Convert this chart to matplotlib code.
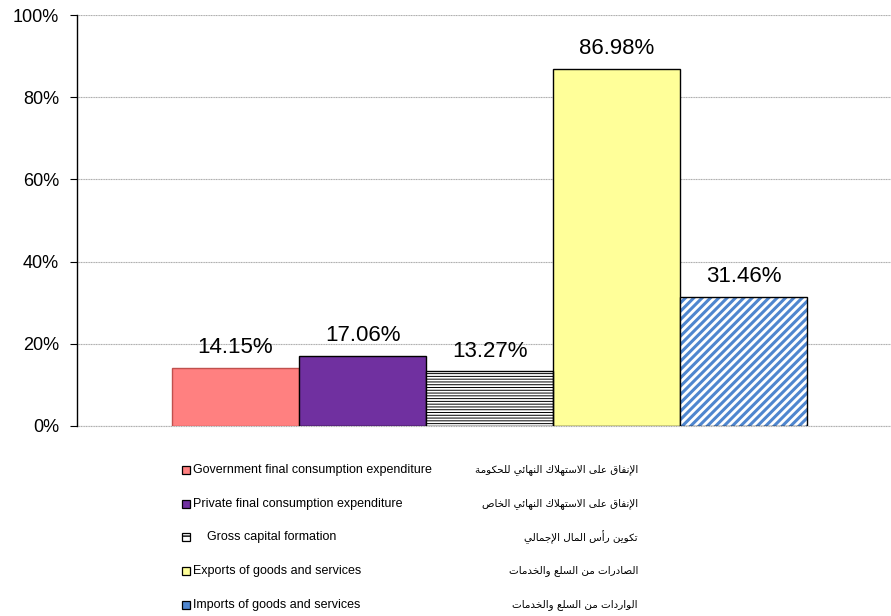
import matplotlib
matplotlib.use("Agg")
import matplotlib.pyplot as plt
from matplotlib.patches import Rectangle
from matplotlib.ticker import FuncFormatter

plt.rcParams['font.family'] = ['Liberation Sans', 'DejaVu Sans']

# данные
values = [14.15, 17.06, 13.27, 86.98, 31.46]
labels_en = ['Government final consumption expenditure',
             'Private final consumption expenditure',
             'Gross capital formation',
             'Exports of goods and services',
             'Imports of goods and services']
labels_ar = ['الإنفاق على الاستهلاك النهائي للحكومة',
             'الإنفاق على الاستهلاك النهائي الخاص',
             'تكوين رأس المال الإجمالي',
             'الصادرات من السلع والخدمات',
             'الواردات من السلع والخدمات']
y_ticks = [0, 20, 40, 60, 80, 100]

# стили столбцов: заливка, кромка, штриховка, цвет и толщина штриховки
fills = ['#FF8080', '#7030A0', 'white', '#FFFF99', 'white']
edges = ['#C0504D', 'black', 'black', 'black', 'black']
hatches = [None, None, '------', None, '////']
hatch_colors = [None, None, 'black', None, '#4F86CF']
hatch_lw = [1.0, 1.0, 0.7, 1.0, 2.2]

# простое арабское формообразование (matplotlib его не делает)
_base = [('آ', 0xFE81, 2), ('أ', 0xFE83, 2), ('ؤ', 0xFE85, 2), ('إ', 0xFE87, 2),
         ('ئ', 0xFE89, 4), ('ا', 0xFE8D, 2), ('ب', 0xFE8F, 4), ('ة', 0xFE93, 2),
         ('ت', 0xFE95, 4), ('ث', 0xFE99, 4), ('ج', 0xFE9D, 4), ('ح', 0xFEA1, 4),
         ('خ', 0xFEA5, 4), ('د', 0xFEA9, 2), ('ذ', 0xFEAB, 2), ('ر', 0xFEAD, 2),
         ('ز', 0xFEAF, 2), ('س', 0xFEB1, 4), ('ش', 0xFEB5, 4), ('ص', 0xFEB9, 4),
         ('ض', 0xFEBD, 4), ('ط', 0xFEC1, 4), ('ظ', 0xFEC5, 4), ('ع', 0xFEC9, 4),
         ('غ', 0xFECD, 4), ('ف', 0xFED1, 4), ('ق', 0xFED5, 4), ('ك', 0xFED9, 4),
         ('ل', 0xFEDD, 4), ('م', 0xFEE1, 4), ('ن', 0xFEE5, 4), ('ه', 0xFEE9, 4),
         ('و', 0xFEED, 2), ('ى', 0xFEEF, 2), ('ي', 0xFEF1, 4), ('ء', 0xFE80, 1)]
FORMS = {c: [chr(s + k) for k in range(n)] for c, s, n in _base}
LAM_ALEF = {'آ': 0xFEF5, 'أ': 0xFEF7, 'إ': 0xFEF9, 'ا': 0xFEFB}


def shape_ar(text):
    out = []
    i = 0
    while i < len(text):
        c = text[i]
        if c not in FORMS:
            out.append(c)
            i += 1
            continue
        prev = text[i - 1] if i > 0 else None
        joins_prev = prev in FORMS and len(FORMS[prev]) == 4
        if c == 'ل' and i + 1 < len(text) and text[i + 1] in LAM_ALEF:
            out.append(chr(LAM_ALEF[text[i + 1]] + (1 if joins_prev else 0)))
            i += 2
            continue
        forms = FORMS[c]
        nxt = text[i + 1] if i + 1 < len(text) else None
        joins_next = len(forms) == 4 and nxt in FORMS
        if len(forms) == 1:
            f = forms[0]
        elif joins_prev and joins_next:
            f = forms[3]
        elif joins_prev:
            f = forms[1]
        elif joins_next:
            f = forms[2]
        else:
            f = forms[0]
        out.append(f)
        i += 1
    return ''.join(reversed(out))


def hatched_bar(ax, x, h, fill, edge, hatch, hcolor, hlw, width=1.0):
    if hatch is None:
        ax.bar(x, h, width=width, color=fill, edgecolor=edge, linewidth=1.0, zorder=3)
        return
    with plt.rc_context({'hatch.linewidth': hlw}):
        b = ax.bar(x, h, width=width, color=fill, edgecolor=hcolor, hatch=hatch,
                   linewidth=0, zorder=3)
        for p in b:
            if hasattr(p, 'set_hatch_linewidth'):
                p.set_hatch_linewidth(hlw)
    ax.bar(x, h, width=width, fill=False, edgecolor=edge, linewidth=1.0, zorder=4)


fig = plt.figure(figsize=(8.91, 6.16), dpi=100)
ax = fig.add_axes([77 / 891, 1 - 426 / 616, 1 - 77 / 891, (426 - 15) / 616])

xs = list(range(len(values)))
for i, v in enumerate(values):
    hatched_bar(ax, xs[i], v, fills[i], edges[i], hatches[i], hatch_colors[i], hatch_lw[i])
    ax.annotate(f'{v:.2f}%', (xs[i], v), xytext=(0, 7), textcoords='offset points',
                ha='center', va='bottom', fontsize=16, zorder=5)

ax.set_xlim(-1.248, 5.16)
ax.set_ylim(0, 100)
ax.set_yticks(y_ticks)
ax.yaxis.set_major_formatter(FuncFormatter(lambda v, p: f'{v:.0f}%'))
ax.tick_params(axis='y', labelsize=13, length=5, width=0.8, pad=8)
ax.set_xticks([])
ax.grid(axis='y', color='#ABABAB', linestyle=(0, (1, 0.5)), linewidth=0.8, zorder=0)
ax.axhline(0, color='#ABABAB', linestyle=(0, (1, 0.5)), linewidth=0.8, zorder=2, clip_on=False)
for s in ['top', 'right', 'bottom']:
    ax.spines[s].set_visible(False)
ax.spines['left'].set_linewidth(1.0)
ax.spines['left'].set_zorder(6)

# легенда вручную (пиксельные координаты)
lg = fig.add_axes([0, 0, 1, 1])
lg.set_xlim(0, 891)
lg.set_ylim(616, 0)
lg.axis('off')
row_y = [470, 504, 537, 571, 605]
for i in range(len(labels_en)):
    y = row_y[i]
    if hatches[i] is None:
        lg.add_patch(Rectangle((182, y - 4), 8, 8, facecolor=fills[i], edgecolor='black', lw=0.9))
    else:
        with plt.rc_context({'hatch.linewidth': 1.0}):
            r = Rectangle((182, y - 4), 8, 8, facecolor=fills[i] if i != 4 else '#4F86CF',
                          edgecolor='black' if i != 4 else 'white',
                          hatch='---' if i == 2 else '//', lw=0)
            lg.add_patch(r)
        lg.add_patch(Rectangle((182, y - 4), 8, 8, fill=False, edgecolor='black', lw=0.9))
    tx = 207 if i == 2 else 193
    lg.text(tx, y, labels_en[i], fontsize=9, va='center', ha='left')
    lg.text(638, y, shape_ar(labels_ar[i]), fontsize=7.5, va='center', ha='right',
            family=['DejaVu Sans'])

fig.savefig('out.png', dpi=100)
